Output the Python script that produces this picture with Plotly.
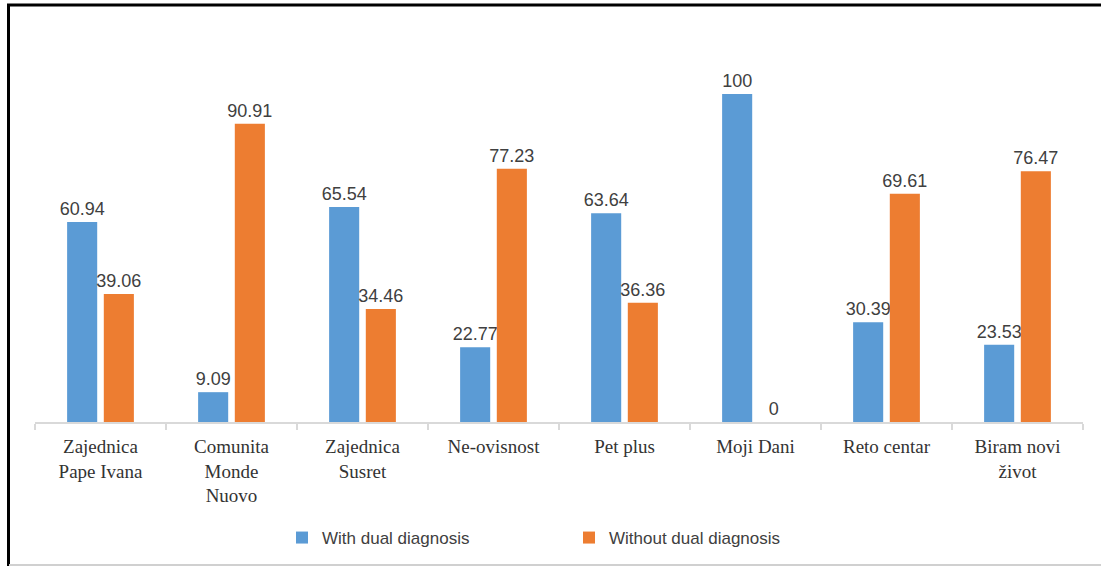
import plotly.graph_objects as go

categories = ["Zajednica<br>Pape Ivana", "Comunita<br>Monde<br>Nuovo", "Zajednica<br>Susret",
              "Ne-ovisnost", "Pet plus", "Moji Dani", "Reto centar", "Biram novi<br>život"]
with_dual = [60.94, 9.09, 65.54, 22.77, 63.64, 100, 30.39, 23.53]
without_dual = [39.06, 90.91, 34.46, 77.23, 36.36, 0, 69.61, 76.47]
with_labels = ["60.94", "9.09", "65.54", "22.77", "63.64", "100", "30.39", "23.53"]
without_labels = ["39.06", "90.91", "34.46", "77.23", "36.36", "0", "69.61", "76.47"]

W, H = 1101, 567
L, R, T, B = 35, 18, 20, 145
pw = W - L - R
ph = H - T - B

def px(x):
    return (x - L) / pw

def py(y):
    return (H - B - y) / ph

label_font = dict(family="Liberation Sans, Arial", size=18, color="#404040")

fig = go.Figure()
fig.add_trace(go.Bar(
    x=categories, y=with_dual, name="With dual diagnosis",
    marker=dict(color="#5B9BD5", line=dict(width=0)),
    text=with_labels, textposition="outside", textfont=label_font,
    constraintext="none", cliponaxis=False,
))
fig.add_trace(go.Bar(
    x=categories, y=without_dual, name="Without dual diagnosis",
    marker=dict(color="#ED7D31", line=dict(width=0)),
    text=without_labels, textposition="outside", textfont=label_font,
    constraintext="none", cliponaxis=False,
))

fig.update_layout(
    width=W, height=H,
    margin=dict(l=L, r=R, t=T, b=B, autoexpand=False),
    paper_bgcolor="white", plot_bgcolor="white",
    barmode="group", bargap=0.44, bargroupgap=0.18,
    showlegend=True,
    legend=dict(orientation="h", x=px(282), xanchor="left", y=py(538), yanchor="middle",
                font=dict(family="Liberation Sans, Arial", size=17, color="#404040"),
                entrywidth=242, entrywidthmode="pixels", itemwidth=30),
    xaxis=dict(
        showline=True, linecolor="#D9D9D9", linewidth=2,
        ticks="outside", tickson="boundaries", ticklen=6, tickcolor="#D9D9D9", tickwidth=2,
        ticklabelstandoff=6,
        tickfont=dict(family="Liberation Serif, Times New Roman", size=19, color="#333333"),
        showgrid=False, fixedrange=True,
    ),
    yaxis=dict(range=[0, 100 * ph / 328], visible=False, showgrid=False, fixedrange=True),
    shapes=[
        dict(type="line", xref="paper", yref="paper", x0=px(8.5), x1=px(8.5), y0=py(4), y1=py(566),
             line=dict(color="black", width=3)),
        dict(type="line", xref="paper", yref="paper", x0=px(7), x1=px(1101), y0=py(5), y1=py(5),
             line=dict(color="black", width=3)),
        dict(type="line", xref="paper", yref="paper", x0=px(9), x1=px(1101), y0=py(565), y1=py(565),
             line=dict(color="#D0D0D0", width=2)),
    ],
)

fig.write_html("out.html", config={"displayModeBar": False})
